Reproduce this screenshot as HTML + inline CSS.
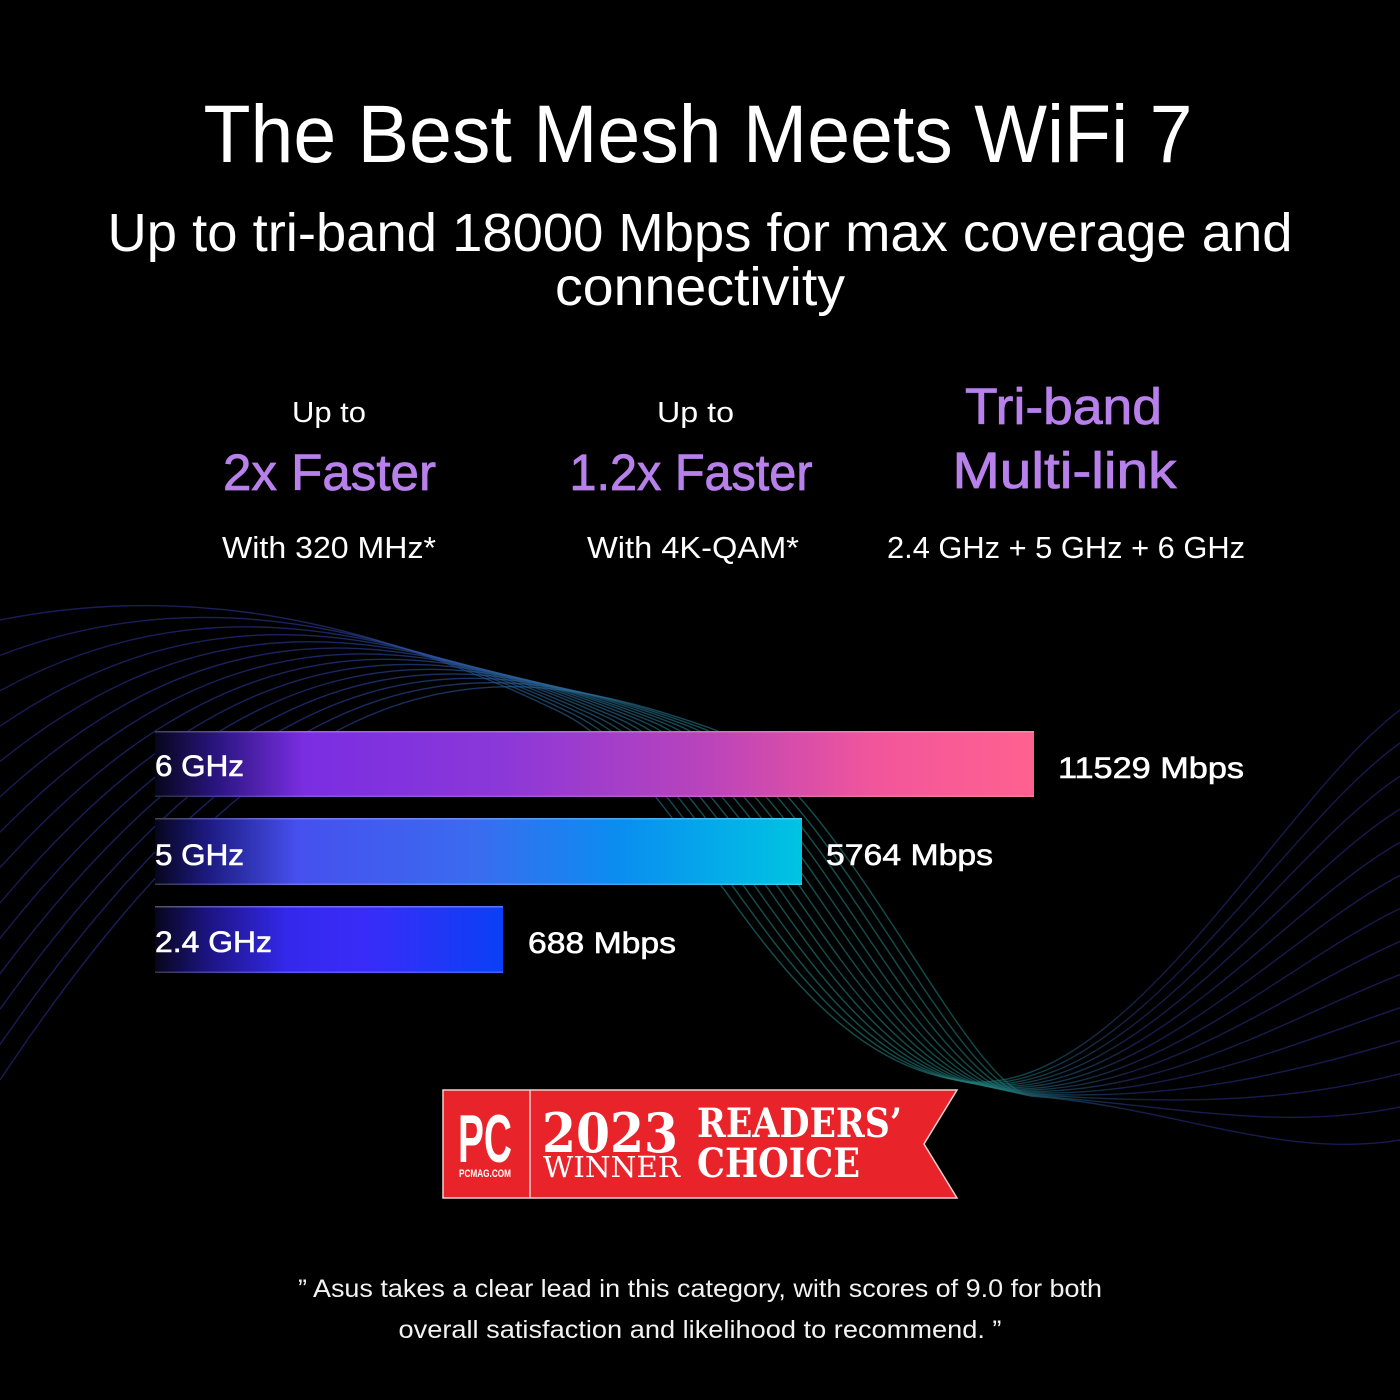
<!DOCTYPE html>
<html>
<head>
<meta charset="utf-8">
<style>
  html,body{margin:0;padding:0;background:#000;}
  body{width:1400px;height:1400px;overflow:hidden;}
  svg{display:block;}
  .s{font-family:"Liberation Sans",sans-serif;}
  .sf{font-family:"DejaVu Serif","Liberation Serif",serif;}
</style>
</head>
<body>
<svg width="1400" height="1400" viewBox="0 0 1400 1400" xmlns="http://www.w3.org/2000/svg">
  <defs>
    <linearGradient id="wave" gradientUnits="userSpaceOnUse" x1="0" y1="0" x2="1400" y2="0">
      <stop offset="0" stop-color="#2b2b8c"/>
      <stop offset="0.22" stop-color="#2d3ca0"/>
      <stop offset="0.40" stop-color="#2a6a9a"/>
      <stop offset="0.57" stop-color="#1f8a86"/>
      <stop offset="0.71" stop-color="#1f7a78"/>
      <stop offset="0.82" stop-color="#23307a"/>
      <stop offset="1" stop-color="#2a2a88"/>
    </linearGradient>
    <linearGradient id="g6" gradientUnits="userSpaceOnUse" x1="155" y1="0" x2="1034" y2="0">
      <stop offset="0" stop-color="#07061c"/>
      <stop offset="0.07" stop-color="#2a1580"/>
      <stop offset="0.17" stop-color="#7a2ee2"/>
      <stop offset="0.40" stop-color="#8c38d8"/>
      <stop offset="0.62" stop-color="#b843bc"/>
      <stop offset="0.82" stop-color="#f2569a"/>
      <stop offset="1" stop-color="#ff6190"/>
    </linearGradient>
    <linearGradient id="g5" gradientUnits="userSpaceOnUse" x1="155" y1="0" x2="802" y2="0">
      <stop offset="0" stop-color="#07061c"/>
      <stop offset="0.08" stop-color="#1c1a80"/>
      <stop offset="0.22" stop-color="#4650ee"/>
      <stop offset="0.50" stop-color="#3a6cf0"/>
      <stop offset="0.72" stop-color="#0a8ef0"/>
      <stop offset="1" stop-color="#00c4e2"/>
    </linearGradient>
    <linearGradient id="g24" gradientUnits="userSpaceOnUse" x1="155" y1="0" x2="503" y2="0">
      <stop offset="0" stop-color="#07061c"/>
      <stop offset="0.15" stop-color="#1c1480"/>
      <stop offset="0.38" stop-color="#3428ec"/>
      <stop offset="0.60" stop-color="#3a2cf8"/>
      <stop offset="1" stop-color="#0a40f5"/>
    </linearGradient>
  </defs>

  <rect x="0" y="0" width="1400" height="1400" fill="#000"/>

  <!-- wave lines -->
  <g fill="none" stroke="url(#wave)" stroke-width="1.4" stroke-opacity="0.6">
    <path d="M0,620 C150,590 330,600 560,712 C698,779 770,1060 970,1082 C1130,1092 1280,800 1400,710"/>
    <path d="M0,655.4 C161.5,593.1 343.1,604.2 571.5,713.2 C708.6,778.5 784.6,1061.5 974.6,1083.1 C1133.1,1093.1 1280,827.7 1400,743.1"/>
    <path d="M0,690.8 C173.1,596.2 356.2,608.5 583.1,714.5 C719.2,777.9 799.2,1063.1 979.2,1084.2 C1136.2,1094.2 1280,855.4 1400,776.2"/>
    <path d="M0,726.2 C184.6,599.2 369.2,612.7 594.6,715.7 C729.8,777.4 813.8,1064.6 983.8,1085.2 C1139.2,1095.2 1280,883.1 1400,809.2"/>
    <path d="M0,761.5 C196.2,602.3 382.3,616.9 606.2,716.9 C740.5,776.8 828.5,1066.2 988.5,1086.3 C1142.3,1096.3 1280,910.8 1400,842.3"/>
    <path d="M0,796.9 C207.7,605.4 395.4,621.2 617.7,718.2 C751.1,776.3 843.1,1067.7 993.1,1087.4 C1145.4,1097.4 1280,938.5 1400,875.4"/>
    <path d="M0,832.3 C219.2,608.5 408.5,625.4 629.2,719.4 C761.7,775.8 857.7,1069.2 997.7,1088.5 C1148.5,1098.5 1280,966.2 1400,908.5"/>
    <path d="M0,867.7 C230.8,611.5 421.5,629.6 640.8,720.6 C772.3,775.2 872.3,1070.8 1002.3,1089.5 C1151.5,1099.5 1280,993.8 1400,941.5"/>
    <path d="M0,903.1 C242.3,614.6 434.6,633.8 652.3,721.8 C782.9,774.7 886.9,1072.3 1006.9,1090.6 C1154.6,1100.6 1280,1021.5 1400,974.6"/>
    <path d="M0,938.5 C253.8,617.7 447.7,638.1 663.8,723.1 C793.5,774.2 901.5,1073.8 1011.5,1091.7 C1157.7,1101.7 1280,1049.2 1400,1007.7"/>
    <path d="M0,973.8 C265.4,620.8 460.8,642.3 675.4,724.3 C804.2,773.6 916.2,1075.4 1016.2,1092.8 C1160.8,1102.8 1280,1076.9 1400,1040.8"/>
    <path d="M0,1009.2 C276.9,623.8 473.8,646.5 686.9,725.5 C814.8,773.1 930.8,1076.9 1020.8,1093.8 C1163.8,1103.8 1280,1104.6 1400,1073.8"/>
    <path d="M0,1044.6 C288.5,626.9 486.9,650.8 698.5,726.8 C825.4,772.5 945.4,1078.5 1025.4,1094.9 C1166.9,1104.9 1280,1132.3 1400,1106.9"/>
    <path d="M0,1080 C300,630 500,655 710,728 C836,772 960,1080 1030,1096 C1170,1106 1280,1160 1400,1140"/>
  </g>

  <!-- headings -->
  <g class="s" fill="#ffffff" text-anchor="middle">
    <text x="698" y="162" font-size="82" textLength="989" lengthAdjust="spacingAndGlyphs">The Best Mesh Meets WiFi 7</text>
    <text x="700" y="251" font-size="54" textLength="1185" lengthAdjust="spacingAndGlyphs">Up to tri-band 18000 Mbps for max coverage and</text>
    <text x="700" y="305" font-size="54" textLength="290" lengthAdjust="spacingAndGlyphs">connectivity</text>
  </g>

  <!-- stats -->
  <g class="s" text-anchor="middle">
    <text x="329" y="422" font-size="29" fill="#fff" textLength="74" lengthAdjust="spacingAndGlyphs">Up to</text>
    <text x="329.5" y="490" font-size="51" fill="#b880ea" stroke="#b880ea" stroke-width="0.8" textLength="213" lengthAdjust="spacingAndGlyphs">2x Faster</text>
    <text x="329" y="558" font-size="31" fill="#fff" textLength="214" lengthAdjust="spacingAndGlyphs">With 320 MHz*</text>

    <text x="695.5" y="422" font-size="29" fill="#fff" textLength="77" lengthAdjust="spacingAndGlyphs">Up to</text>
    <text x="691" y="490" font-size="51" fill="#b880ea" stroke="#b880ea" stroke-width="0.8" textLength="243" lengthAdjust="spacingAndGlyphs">1.2x Faster</text>
    <text x="693" y="558" font-size="31" fill="#fff" textLength="212" lengthAdjust="spacingAndGlyphs">With 4K-QAM*</text>

    <text x="1063.5" y="424" font-size="51" fill="#b880ea" stroke="#b880ea" stroke-width="0.8" textLength="197" lengthAdjust="spacingAndGlyphs">Tri-band</text>
    <text x="1064.5" y="488" font-size="51" fill="#b880ea" stroke="#b880ea" stroke-width="0.8" textLength="224" lengthAdjust="spacingAndGlyphs">Multi-link</text>
    <text x="1066" y="558" font-size="31" fill="#fff" textLength="358" lengthAdjust="spacingAndGlyphs">2.4 GHz + 5 GHz + 6 GHz</text>
  </g>

  <!-- bars -->
  <rect x="155" y="731" width="879" height="66" fill="url(#g6)"/>
  <rect x="155" y="731" width="879" height="1.5" fill="#ffffff" fill-opacity="0.25"/>
  <rect x="155" y="795.5" width="879" height="1.5" fill="#ffffff" fill-opacity="0.15"/>

  <rect x="155" y="818" width="647" height="67" fill="url(#g5)"/>
  <rect x="155" y="818" width="647" height="1.5" fill="#ffffff" fill-opacity="0.25"/>
  <rect x="155" y="883.5" width="647" height="1.5" fill="#ffffff" fill-opacity="0.2"/>

  <rect x="155" y="906" width="348" height="67" fill="url(#g24)"/>
  <rect x="155" y="906" width="348" height="1.5" fill="#ffffff" fill-opacity="0.3"/>
  <rect x="155" y="971.5" width="348" height="1.5" fill="#ffffff" fill-opacity="0.2"/>

  <!-- bar labels -->
  <g class="s" fill="#fff" stroke="#fff" stroke-width="0.6" font-size="30">
    <text x="155" y="776" textLength="89" lengthAdjust="spacingAndGlyphs">6 GHz</text>
    <text x="155" y="865" textLength="89" lengthAdjust="spacingAndGlyphs">5 GHz</text>
    <text x="155" y="952" textLength="117" lengthAdjust="spacingAndGlyphs">2.4 GHz</text>
    <text x="1058" y="778" textLength="186" lengthAdjust="spacingAndGlyphs">11529 Mbps</text>
    <text x="826" y="865" textLength="167" lengthAdjust="spacingAndGlyphs">5764 Mbps</text>
    <text x="528" y="953" textLength="148" lengthAdjust="spacingAndGlyphs">688 Mbps</text>
  </g>

  <!-- PCMag badge -->
  <polygon points="443,1090 957,1090 924,1144 957,1198 443,1198" fill="#e8232a" stroke="#f4d0d0" stroke-width="1.5"/>
  <line x1="530" y1="1090" x2="530" y2="1198" stroke="#f4d0d0" stroke-width="1.5"/>
  <text class="s" x="485" y="1162" font-size="68" font-weight="bold" fill="#fff" text-anchor="middle" textLength="54" lengthAdjust="spacingAndGlyphs">PC</text>
  <text class="s" x="485" y="1177" font-size="11" font-weight="bold" fill="#fff" text-anchor="middle" textLength="52" lengthAdjust="spacingAndGlyphs">PCMAG.COM</text>
  <g class="sf" fill="#fff">
    <text x="542" y="1152" font-size="54" font-weight="bold" textLength="136" lengthAdjust="spacingAndGlyphs">2023</text>
    <text x="543" y="1177" font-size="29" textLength="137" lengthAdjust="spacingAndGlyphs">WINNER</text>
    <text x="697" y="1137" font-size="40" font-weight="bold" textLength="205" lengthAdjust="spacingAndGlyphs">READERS’</text>
    <text x="697" y="1177" font-size="40" font-weight="bold" textLength="163" lengthAdjust="spacingAndGlyphs">CHOICE</text>
  </g>

  <!-- quote -->
  <g class="s" fill="#f2f2f2" font-size="25" text-anchor="middle">
    <text x="700" y="1297" textLength="804" lengthAdjust="spacingAndGlyphs">” Asus takes a clear lead in this category, with scores of 9.0 for both</text>
    <text x="700" y="1338" textLength="603" lengthAdjust="spacingAndGlyphs">overall satisfaction and likelihood to recommend. ”</text>
  </g>
</svg>
</body>
</html>
